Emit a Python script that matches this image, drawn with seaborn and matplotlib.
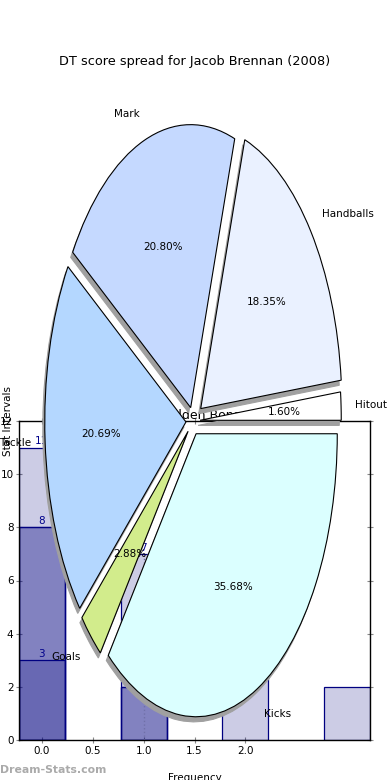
import numpy as np
import pandas as pd
import matplotlib
matplotlib.use("Agg")
import matplotlib.pyplot as plt
import seaborn as sns

# ── pie data ────────────────────────────────────────────────────────────
pie_labels = ["Hitout", "Handballs", "Mark", "Tackle", "Goals", "Kicks"]
pie_values = [1.60, 18.35, 20.80, 20.69, 2.88, 35.68]
pie_colors = ["#ffffff", "#eaf1ff", "#c5d9ff", "#b4d7ff", "#d2ec8c", "#dbffff"]
pie_explode = [0.05, 0.07, 0.05, 0.05, 0.05, 0.05]

# ── bar data (overlapping translucent layers) ───────────────────────────
bar_cats = [0, 1, 2, 3]
layer_a = [11, 7, 4, 2]
layer_b = [8, 2]
layer_c = [8, 2]
layer_d = [3]
value_labels_x = [0, 0, 0, 1]
value_labels_y = [11, 8, 3, 7]
whisker_x, whisker_top = 1, 7

xtick_vals = [0.0, 0.5, 1.0, 1.5, 2.0]
ytick_vals = [0, 2, 4, 6, 8, 10, 12]

sns.set_style("ticks")
plt.rcParams["font.family"] = ["DejaVu Sans"]
plt.rcParams["text.color"] = "black"
plt.rcParams["axes.labelcolor"] = "black"
plt.rcParams["xtick.labelcolor"] = "black"
plt.rcParams["ytick.labelcolor"] = "black"

fig = plt.figure(figsize=(3.9, 7.8), dpi=100)

# ═════ bar axes (underneath) ═════
ax = fig.add_axes([19 / 390, 40 / 780, 351 / 390, 319 / 780])
for layer in (layer_a, layer_b, layer_c, layer_d):
    df = pd.DataFrame({"cat": bar_cats[:len(layer)], "val": layer})
    sns.barplot(data=df, x="cat", y="val", order=bar_cats, width=0.45,
                errorbar=None, color="navy", ax=ax)
for p in ax.patches:
    p.set_facecolor((0, 0, 0.5, 0.2))
    p.set_edgecolor("navy")
    p.set_linewidth(0.9)

ax.vlines(whisker_x, 0, whisker_top, colors="#7070a8", linestyles=":", lw=1)
for x, y in zip(value_labels_x, value_labels_y):
    ax.text(x, y + 0.05, str(y), color="darkblue", ha="center", va="bottom",
            fontsize=7.5)

ax.set_xlim(-0.225, 3.225)
ax.set_ylim(0, 12)
ax.set_xticks(xtick_vals)
ax.set_xticklabels([f"{v:.1f}" for v in xtick_vals])
ax.set_yticks(ytick_vals)
ax.tick_params(labelsize=7.5, direction="inout", length=4, color="#888888",
               top=True, right=True, pad=2)
for s in ax.spines.values():
    s.set_color("black")
    s.set_linewidth(1)
ax.set_xlabel("Frequency", fontsize=7.5)
ax.set_ylabel("Stat Intervals", fontsize=7.5)
ax.xaxis.set_label_coords(0.5, -0.105)
ax.yaxis.set_label_coords(-0.016, 1.0)
ax.set_title("Golden Bonanza", fontsize=9, pad=1.5)
ax.title.set_x(0.55)

# ═════ pie axes (on top) ═════
pax = fig.add_axes([16.5 / 390, 5.25 / 780, 353 / 390, 707.5 / 780])
pax.pie(pie_values, labels=pie_labels, colors=pie_colors,
        explode=pie_explode, autopct="%1.2f%%",
        shadow=dict(ox=-0.01, oy=-0.013, facecolor="#a0a0a0",
                    edgecolor="#a0a0a0", alpha=1),
        startangle=0, labeldistance=1.1, pctdistance=0.6,
        wedgeprops=dict(edgecolor="black", linewidth=0.8),
        textprops=dict(fontsize=7.5, color="black"))
pax.set_aspect("auto")
pax.set_xlim(-1.25, 1.25)
pax.set_ylim(-1.25, 1.25)
pax.set_frame_on(False)
pax.set_xticks([])
pax.set_yticks([])

fig.text(0.5, 1 - 61 / 780, "DT score spread for Jacob Brennan (2008)",
         ha="center", va="center", fontsize=9.3)
fig.text(0.0, 1 - 770 / 780, "Dream-Stats.com", ha="left", va="center",
         fontsize=7.8, color="#aaaaaa", fontweight="bold")

fig.savefig("out.png", dpi=100)
